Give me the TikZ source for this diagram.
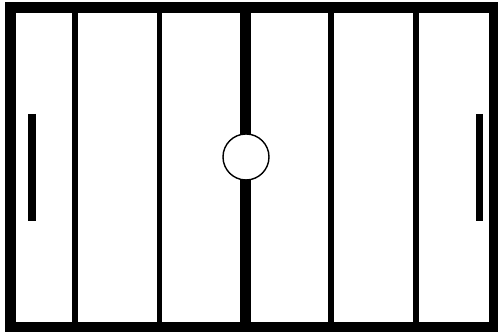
\documentclass[tikz,border=0pt]{standalone}
\usepackage{tikz}

\tikzset{
  divider/.style={line width=3.4pt},
  paddle/.style={line width=4.5pt},
}

\begin{document}
\begin{tikzpicture}[x=0.02cm,y=-0.02cm]
\useasboundingbox (0,0) rectangle (498,333);
% the field lines
\foreach \x in {75,159.5,331,416}
  \draw[divider] (\x,8) -- (\x,327);
\draw[line width=6.2pt] (245.5,8) -- (245.5,327);
% frame
\draw[line width=6pt] (10.5,7.5) rectangle (494.5,327);
% paddles
\draw[paddle] (32,114) -- (32,221);
\draw[paddle] (479.5,114) -- (479.5,221);
% ball
\draw[fill=white,line width=0.8pt] (246,157) circle (23);
\end{tikzpicture}
\end{document}
